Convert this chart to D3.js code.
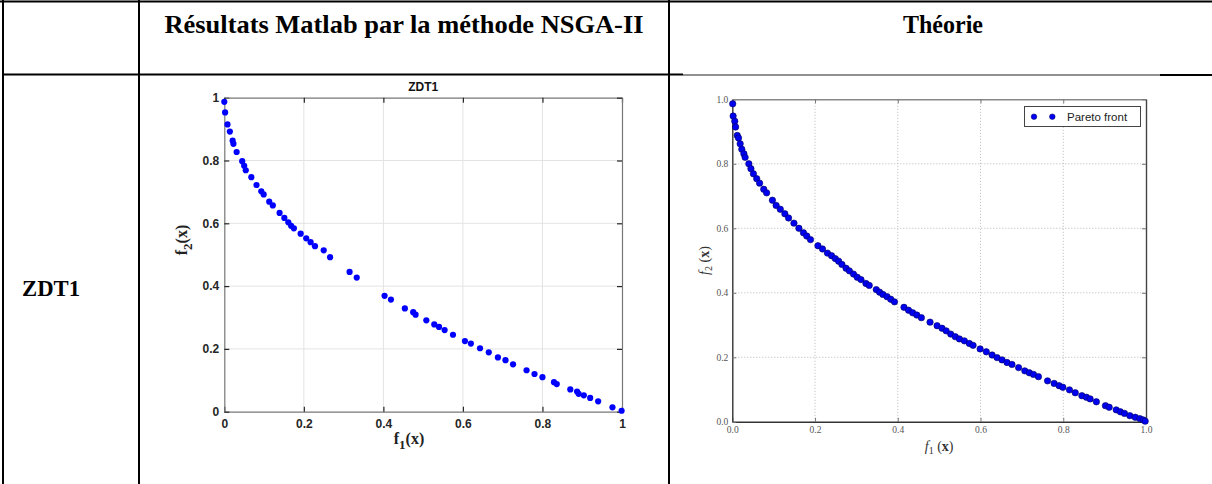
<!DOCTYPE html>
<html><head><meta charset="utf-8">
<script src="https://cdn.jsdelivr.net/npm/d3@7"></script>
<style>body{margin:0;background:#fff;} svg{display:block;}</style>
</head><body><svg id="c" width="1212" height="484"></svg>
<script>
const headers = ["Résultats Matlab par la méthode NSGA-II", "Théorie"];
const rowLabel = "ZDT1";
const matlabTitle = "ZDT1";
const matlabTicks = [0, 0.2, 0.4, 0.6, 0.8, 1];
const matlabTickLabels = ["0", "0.2", "0.4", "0.6", "0.8", "1"];
const theoryTicks = [0, 0.2, 0.4, 0.6, 0.8, 1];
const theoryTickLabels = ["0.0", "0.2", "0.4", "0.6", "0.8", "1.0"];
const legendLabel = "Pareto front";

const matlabF1 = [0, 0.002, 0.008, 0.014, 0.021, 0.023, 0.031, 0.045, 0.050, 0.054, 0.068, 0.081, 0.093, 0.099, 0.113, 0.122, 0.139, 0.151, 0.161, 0.168, 0.175, 0.192, 0.206, 0.217, 0.228, 0.250, 0.266, 0.315, 0.333, 0.403, 0.419, 0.454, 0.475, 0.481, 0.508, 0.528, 0.540, 0.554, 0.575, 0.605, 0.620, 0.643, 0.665, 0.688, 0.707, 0.726, 0.760, 0.780, 0.800, 0.829, 0.836, 0.870, 0.887, 0.891, 0.904, 0.920, 0.940, 0.976, 0.999];
const matlabF2 = [0.987, 0.953, 0.915, 0.892, 0.863, 0.853, 0.827, 0.798, 0.783, 0.769, 0.747, 0.722, 0.702, 0.692, 0.669, 0.657, 0.633, 0.617, 0.603, 0.592, 0.584, 0.567, 0.552, 0.540, 0.527, 0.514, 0.492, 0.445, 0.427, 0.369, 0.357, 0.329, 0.317, 0.309, 0.291, 0.278, 0.270, 0.260, 0.245, 0.225, 0.217, 0.202, 0.189, 0.173, 0.164, 0.151, 0.132, 0.120, 0.110, 0.094, 0.088, 0.071, 0.064, 0.057, 0.052, 0.044, 0.033, 0.014, 0.003];

const theoryF1 = [0.001, 0.002, 0.006, 0.008, 0.012, 0.015, 0.019, 0.023, 0.028, 0.031, 0.040, 0.045, 0.051, 0.059, 0.066, 0.076, 0.083, 0.097, 0.106, 0.116, 0.127, 0.136, 0.149, 0.161, 0.172, 0.180, 0.189, 0.207, 0.218, 0.230, 0.240, 0.249, 0.257, 0.265, 0.275, 0.283, 0.293, 0.302, 0.311, 0.323, 0.331, 0.348, 0.356, 0.364, 0.374, 0.383, 0.392, 0.415, 0.426, 0.436, 0.446, 0.457, 0.478, 0.495, 0.507, 0.517, 0.528, 0.539, 0.549, 0.561, 0.573, 0.582, 0.599, 0.614, 0.628, 0.640, 0.652, 0.664, 0.676, 0.692, 0.707, 0.718, 0.728, 0.740, 0.762, 0.778, 0.790, 0.799, 0.815, 0.829, 0.845, 0.856, 0.865, 0.880, 0.902, 0.911, 0.928, 0.938, 0.948, 0.961, 0.974, 0.985, 0.993, 0.998];
const theoryF2 = [0.986, 0.948, 0.932, 0.914, 0.888, 0.880, 0.862, 0.845, 0.831, 0.820, 0.800, 0.785, 0.769, 0.754, 0.740, 0.721, 0.710, 0.687, 0.671, 0.659, 0.645, 0.632, 0.616, 0.600, 0.586, 0.576, 0.565, 0.546, 0.536, 0.523, 0.515, 0.506, 0.498, 0.488, 0.476, 0.468, 0.458, 0.448, 0.441, 0.429, 0.423, 0.410, 0.402, 0.395, 0.388, 0.380, 0.372, 0.355, 0.346, 0.338, 0.331, 0.323, 0.309, 0.298, 0.290, 0.282, 0.272, 0.264, 0.257, 0.251, 0.243, 0.237, 0.226, 0.217, 0.207, 0.199, 0.192, 0.184, 0.178, 0.168, 0.158, 0.152, 0.147, 0.140, 0.127, 0.119, 0.112, 0.107, 0.099, 0.090, 0.081, 0.076, 0.071, 0.062, 0.050, 0.045, 0.037, 0.031, 0.026, 0.019, 0.014, 0.010, 0.006, 0.002];

const svg = d3.select("#c");
const W = 1212, H = 484;

// ---------- table ----------
const tbl = svg.append("g");
const lineK = (x1, y1, x2, y2, w, c) => tbl.append("line").attr("x1", x1).attr("y1", y1).attr("x2", x2).attr("y2", y2).attr("stroke", c || "#000").attr("stroke-width", w);
lineK(0, 1.5, W, 1.5, 2);
lineK(3, 0, 3, H, 2);
lineK(139, 0, 139, H, 2);
lineK(669, 0, 669, H, 2);
lineK(3, 74.5, 683, 74.5, 2);
lineK(683, 75, 1160, 75, 1, "#222");
lineK(1160, 75, W, 75, 2);

const serif = "Liberation Serif, Times New Roman, serif";
tbl.append("text").attr("x", 404).attr("y", 33).attr("text-anchor", "middle")
  .attr("font-family", serif).attr("font-weight", "bold").attr("font-size", 25)
  .attr("textLength", 479).attr("lengthAdjust", "spacingAndGlyphs")
  .text(headers[0]);
tbl.append("text").attr("x", 943).attr("y", 33).attr("text-anchor", "middle")
  .attr("font-family", serif).attr("font-weight", "bold").attr("font-size", 25)
  .attr("textLength", 80).attr("lengthAdjust", "spacingAndGlyphs")
  .text(headers[1]);
tbl.append("text").attr("x", 22).attr("y", 296)
  .attr("font-family", serif).attr("font-weight", "bold").attr("font-size", 23)
  .attr("textLength", 58).attr("lengthAdjust", "spacingAndGlyphs")
  .text(rowLabel);

// ---------- Matlab chart ----------
{
  const x = d3.scaleLinear().domain([0, 1]).range([224.3, 622]);
  const y = d3.scaleLinear().domain([0, 1]).range([411.7, 97.7]);
  const g = svg.append("g");
  g.selectAll(".gx").data(matlabTicks.slice(1, -1)).join("line")
    .attr("x1", d => x(d)).attr("x2", d => x(d)).attr("y1", y(0)).attr("y2", y(1))
    .attr("stroke", "#e3e3e3").attr("stroke-width", 1);
  g.selectAll(".gy").data(matlabTicks.slice(1, -1)).join("line")
    .attr("y1", d => y(d)).attr("y2", d => y(d)).attr("x1", x(0)).attr("x2", x(1))
    .attr("stroke", "#e3e3e3").attr("stroke-width", 1);
  const fmt = (d) => matlabTickLabels[matlabTicks.indexOf(d)];
  const styleAxis = (sel) => {
    sel.select(".domain").attr("stroke", "#777").attr("stroke-width", 1.2);
    sel.selectAll(".tick line").attr("stroke", "#262626").attr("stroke-width", 1.2);
    sel.selectAll("text").attr("font-family", "Liberation Sans, Arial, sans-serif").attr("font-weight", "bold")
      .attr("font-size", 12).attr("fill", "#262626");
  };
  g.append("g").attr("transform", `translate(0,${y(0)})`)
    .call(d3.axisBottom(x).tickValues(matlabTicks).tickFormat(fmt).tickSizeInner(-5).tickSizeOuter(0).tickPadding(8))
    .call(styleAxis);
  g.append("g").attr("transform", `translate(${x(0)},0)`)
    .call(d3.axisLeft(y).tickValues(matlabTicks).tickFormat(fmt).tickSizeInner(-5).tickSizeOuter(0).tickPadding(5))
    .call(styleAxis);
  g.append("g").attr("transform", `translate(0,${y(1)})`)
    .call(d3.axisTop(x).tickValues(matlabTicks).tickFormat("").tickSizeInner(-5).tickSizeOuter(0))
    .call(styleAxis);
  g.append("g").attr("transform", `translate(${x(1)},0)`)
    .call(d3.axisRight(y).tickValues(matlabTicks).tickFormat("").tickSizeInner(-5).tickSizeOuter(0))
    .call(styleAxis);
  g.append("text").attr("x", (x(0) + x(1)) / 2).attr("y", 91).attr("text-anchor", "middle")
    .attr("font-family", "Liberation Sans, Arial, sans-serif").attr("font-weight", "bold").attr("font-size", 12)
    .attr("fill", "#111").text(matlabTitle);
  g.selectAll(".pt").data(matlabF1).join("circle")
    .attr("cx", d => x(d)).attr("cy", (d, i) => y(matlabF2[i])).attr("r", 3.1).attr("fill", "#0000ff");
  const xl = g.append("text").attr("x", 409).attr("y", 444).attr("text-anchor", "middle")
    .attr("font-family", serif).attr("font-weight", "bold").attr("font-size", 16).attr("fill", "#222");
  xl.append("tspan").text("f");
  xl.append("tspan").attr("dy", 5).attr("font-size", 13).text("1");
  xl.append("tspan").attr("dy", -5).text("(x)");
  const yl = g.append("text").attr("transform", "translate(187,240) rotate(-90)").attr("text-anchor", "middle")
    .attr("font-family", serif).attr("font-weight", "bold").attr("font-size", 16).attr("fill", "#222");
  yl.append("tspan").text("f");
  yl.append("tspan").attr("dy", 5).attr("font-size", 13).text("2");
  yl.append("tspan").attr("dy", -5).text("(x)");
}

// ---------- Theory chart ----------
{
  const x = d3.scaleLinear().domain([0, 1]).range([732.3, 1146]);
  const y = d3.scaleLinear().domain([0, 1]).range([421.8, 99.3]);
  const g = svg.append("g");
  g.selectAll(".gx").data(theoryTicks.slice(1, -1)).join("line")
    .attr("x1", d => x(d)).attr("x2", d => x(d)).attr("y1", y(0)).attr("y2", y(1))
    .attr("stroke", "#b8b8b8").attr("stroke-width", 1).attr("stroke-dasharray", "1,2");
  g.selectAll(".gy").data(theoryTicks.slice(1, -1)).join("line")
    .attr("y1", d => y(d)).attr("y2", d => y(d)).attr("x1", x(0)).attr("x2", x(1))
    .attr("stroke", "#b8b8b8").attr("stroke-width", 1).attr("stroke-dasharray", "1,2");
  const fmt = (d) => theoryTickLabels[theoryTicks.indexOf(d)];
  const styleAxis = (c) => (sel) => {
    sel.select(".domain").attr("stroke", c).attr("stroke-width", 1.4);
    sel.selectAll(".tick line").attr("stroke", "#777").attr("stroke-width", 1);
    sel.selectAll("text").attr("font-family", "Liberation Serif, DejaVu Serif, serif")
      .attr("font-size", 9.5).attr("fill", "#555");
  };
  g.append("g").attr("transform", `translate(0,${y(0)})`)
    .call(d3.axisBottom(x).tickValues(theoryTicks).tickFormat(fmt).tickSizeInner(-4).tickSizeOuter(0).tickPadding(4))
    .call(styleAxis("#333"));
  g.append("g").attr("transform", `translate(${x(0)},0)`)
    .call(d3.axisLeft(y).tickValues(theoryTicks).tickFormat(fmt).tickSizeInner(-4).tickSizeOuter(0).tickPadding(4))
    .call(styleAxis("#333"));
  g.append("g").attr("transform", `translate(0,${y(1)})`)
    .call(d3.axisTop(x).tickValues(theoryTicks).tickFormat("").tickSizeInner(-4).tickSizeOuter(0))
    .call(styleAxis("#888"));
  g.append("g").attr("transform", `translate(${x(1)},0)`)
    .call(d3.axisRight(y).tickValues(theoryTicks).tickFormat("").tickSizeInner(-4).tickSizeOuter(0))
    .call(styleAxis("#444"));
  g.selectAll(".pt").data(theoryF1).join("circle")
    .attr("cx", d => x(d)).attr("cy", (d, i) => y(theoryF2[i])).attr("r", 3.2)
    .attr("fill", "#0000f0").attr("stroke", "#000060").attr("stroke-width", 0.6);
  const lg = g.append("g");
  lg.append("rect").attr("x", 1024.5).attr("y", 106.5).attr("width", 116).attr("height", 20)
    .attr("fill", "#fff").attr("stroke", "#444").attr("stroke-width", 1);
  lg.selectAll(".ld").data([1034, 1052.3]).join("circle").attr("cx", d => d).attr("cy", 116.7).attr("r", 2.8)
    .attr("fill", "#0000f0").attr("stroke", "#000060").attr("stroke-width", 0.5);
  lg.append("text").attr("x", 1067).attr("y", 121).attr("font-family", "Liberation Sans, Arial, sans-serif")
    .attr("font-size", 11.5).attr("fill", "#222").text(legendLabel);
  const xl = g.append("text").attr("x", (x(0) + x(1)) / 2).attr("y", 451).attr("text-anchor", "middle")
    .attr("font-family", "Liberation Serif, DejaVu Serif, serif").attr("font-size", 14).attr("fill", "#333");
  xl.append("tspan").attr("font-style", "italic").text("f");
  xl.append("tspan").attr("dy", 3).attr("font-size", 10).text("1");
  xl.append("tspan").attr("dy", -3).text(" (");
  xl.append("tspan").attr("font-weight", "bold").text("x");
  xl.append("tspan").text(")");
  const yl = g.append("text").attr("transform", `translate(709,${(y(0) + y(1)) / 2}) rotate(-90)`).attr("text-anchor", "middle")
    .attr("font-family", "Liberation Serif, DejaVu Serif, serif").attr("font-size", 14).attr("fill", "#333");
  yl.append("tspan").attr("font-style", "italic").text("f");
  yl.append("tspan").attr("dy", 3).attr("font-size", 10).text("2");
  yl.append("tspan").attr("dy", -3).text(" (");
  yl.append("tspan").attr("font-weight", "bold").text("x");
  yl.append("tspan").text(")");
}
</script></body></html>
